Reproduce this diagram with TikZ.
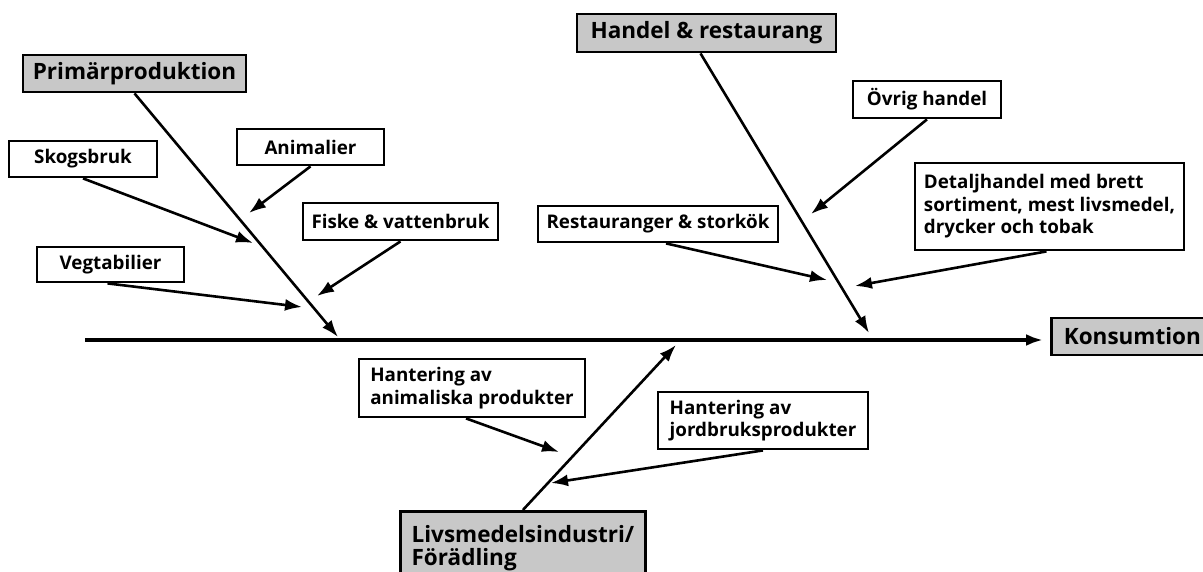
\documentclass[tikz,border=0pt]{standalone}
\usepackage{fontspec}
\setmainfont{Open Sans}
\usetikzlibrary{arrows.meta,positioning,calc}
\definecolor{headgray}{RGB}{200,200,200}
\newcommand{\headfont}{\fontsize{22.5}{22.5}\selectfont\bfseries}
\newcommand{\causefont}{\fontsize{18.8}{22.5}\selectfont\bfseries}

\begin{document}
\begin{tikzpicture}
[x=1pt, y=-1pt, >={Latex[length=17pt,width=12pt]},
head/.style={rectangle, draw, line width=2.8pt, fill=headgray, inner sep=0pt, font=\headfont, minimum height=37pt},
cause/.style={rectangle, draw, line width=2.8pt, fill=white, inner sep=0pt, font=\causefont, minimum height=36pt},
bone/.style={line width=2.6pt, ->},
spine/.style={line width=4pt, ->}]

\useasboundingbox (0,0) rectangle (1203,572);

% heads
\node[head, minimum width=223pt] (prim) at (134.5,73.5) {Primärproduktion};
\node[head, minimum width=259pt, minimum height=38pt] (hand) at (706.5,33) {Handel \& restaurang};
\node[head, minimum width=162pt, anchor=west] (kons) at (1050,336.5) {Konsumtion};
\node[head, minimum width=245pt, minimum height=74pt, anchor=north west, align=left, inner xsep=10pt] (livs) at (399,510) {Livsmedelsindustri/\\Förädling};

% causes
\node[cause, minimum width=148pt] (skog) at (83,159) {Skogsbruk};
\node[cause, minimum width=147pt] (anim) at (310.5,147) {Animalier};
\node[cause, minimum width=195pt, minimum height=37pt] (fisk) at (400.5,221.5) {Fiske \& vattenbruk};
\node[cause, minimum width=147pt, minimum height=35pt] (veg) at (110.5,264.5) {Vegtabilier};

\node[cause, minimum width=148pt, minimum height=37pt] (ovr) at (927,99.5) {Övrig handel};
\node[cause, minimum width=269pt, minimum height=87pt, align=left] (det) at (1049.5,206.5) {Detaljhandel med brett\\sortiment, mest livsmedel,\\drycker och tobak};
\node[cause, minimum width=240pt] (rest) at (658,224) {Restauranger \& storkök};

\node[cause, minimum width=226pt, minimum height=58pt, align=left] (hanim) at (472,388) {Hantering av\\animaliska produkter};
\node[cause, minimum width=210pt, minimum height=57pt, align=left] (hjord) at (763,420.5) {Hantering av\\jordbruksprodukter};

% free ends
\coordinate (s0) at (85,340);
\coordinate (pend) at (338,337);
\coordinate (skogend) at (253,243);
\coordinate (animend) at (249,213);
\coordinate (fiskend) at (317,296);
\coordinate (vegend) at (302,307);
\coordinate (hend) at (869,333);
\coordinate (ovrend) at (811,214);
\coordinate (detend) at (855,286);
\coordinate (restend) at (827,280);
\coordinate (lend) at (676,345);
\coordinate (hanimend) at (559,452);
\coordinate (hjordend) at (551,483);

\draw[spine] (s0) -- ([xshift=-7pt]s0 -| kons.west);

\draw[bone] (prim.south) -- (pend);
\draw[bone] (skog.south) -- (skogend);
\draw[bone] (anim.south) -- (animend);
\draw[bone] (fisk.south) -- (fiskend);
\draw[bone] ([xshift=-3pt]veg.south) -- (vegend);

\draw[bone] ([xshift=-6pt]hand.south) -- (hend);
\draw[bone] (ovr.south) -- (ovrend);
\draw[bone] ([xshift=-3pt]det.south) -- (detend);
\draw[bone] ([xshift=8pt]rest.south) -- (restend);

\draw[bone] (livs.north) -- (lend);
\draw[bone] ([xshift=-6pt]hanim.south) -- (hanimend);
\draw[bone] (hjord.south) -- (hjordend);
\end{tikzpicture}
\end{document}
